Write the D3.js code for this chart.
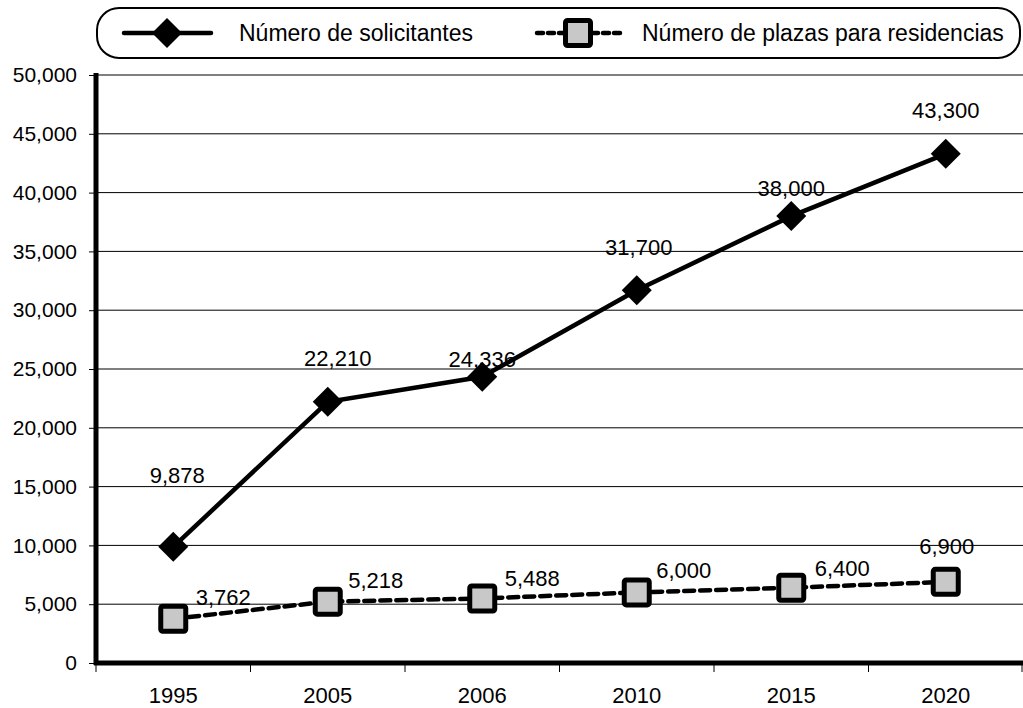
<!DOCTYPE html>
<html><head><meta charset="utf-8">
<script src="https://cdn.jsdelivr.net/npm/d3@7"></script>
<style>body{margin:0;background:#fff}svg{display:block}text{font-family:"Liberation Sans",Arial,sans-serif}</style>
</head><body>
<svg id="c" width="1023" height="708"></svg>
<script>
const categories = ["1995","2005","2006","2010","2015","2020"];
const solicitantes = [9878, 22210, 24336, 31700, 38000, 43300];
const plazas = [3762, 5218, 5488, 6000, 6400, 6900];
const seriesNames = ["Número de solicitantes","Número de plazas para residencias"];
const yTicks = [0,5000,10000,15000,20000,25000,30000,35000,40000,45000,50000];
// label offsets (px) of label centres relative to points, as placed in original
const lab1 = [[4,-72],[10,-44],[0,-18],[2,-43],[0,-28],[0,-44]];
const lab2 = [[50,-22],[48,-22],[50,-20],[47,-22],[51,-20],[1,-36]];

const svg = d3.select("#c");
const m = {l:96, r:1023, t:75, b:663};
const x = d3.scaleBand().domain(categories).range([m.l, m.r]);
const y = d3.scaleLinear().domain([0,50000]).range([m.b, m.t]);
const cx = d => x(d) + x.bandwidth()/2;
const fmt = d3.format(",");
const FF = "Liberation Sans, Arial, sans-serif";

// gridlines
svg.append("g").selectAll("line").data(yTicks.filter(d=>d>0)).join("line")
  .attr("x1", m.l).attr("x2", m.r).attr("y1", d=>y(d)).attr("y2", d=>y(d))
  .attr("stroke","#000").attr("stroke-width",1);

// y axis
const ya = svg.append("g").attr("transform",`translate(${m.l},0)`)
  .call(d3.axisLeft(y).tickValues(yTicks).tickFormat(fmt).tickSize(7).tickPadding(12));
ya.select(".domain").remove();
ya.selectAll(".tick line").attr("stroke","#000");
ya.selectAll("text").attr("font-size",21).attr("fill","#000").attr("font-family",FF);
svg.append("line").attr("x1",m.l).attr("x2",m.l).attr("y1",m.t-2).attr("y2",m.b+2)
  .attr("stroke","#000").attr("stroke-width",5);

// x axis
const xa = svg.append("g").attr("transform",`translate(0,${m.b})`)
  .call(d3.axisBottom(x).tickSize(0).tickPadding(24));
xa.select(".domain").remove();
xa.selectAll("text").attr("font-size",22).attr("fill","#000").attr("font-family",FF);
const bounds = categories.map(c=>x(c)).concat([m.r-1]);
svg.append("g").selectAll("line").data(bounds).join("line")
  .attr("x1",d=>d).attr("x2",d=>d).attr("y1",m.b).attr("y2",m.b+9)
  .attr("stroke","#000").attr("stroke-width",1);
svg.append("line").attr("x1",m.l-2).attr("x2",m.r).attr("y1",m.b).attr("y2",m.b)
  .attr("stroke","#000").attr("stroke-width",5);

// series lines
const line = d3.line().x((d,i)=>cx(categories[i])).y(d=>y(d));
svg.append("path").datum(solicitantes).attr("d",line).attr("fill","none")
  .attr("stroke","#000").attr("stroke-width",4.5);
svg.append("path").datum(plazas).attr("d",line).attr("fill","none")
  .attr("stroke","#000").attr("stroke-width",4.5).attr("stroke-dasharray","10,6").attr("stroke-linecap","round");

// markers
const diamond = (g, px, py) => g.append("path")
  .attr("d",`M${px},${py-15}L${px+15},${py}L${px},${py+15}L${px-15},${py}Z`).attr("fill","#000");
const square = (g, px, py) => g.append("rect").attr("x",px-12.5).attr("y",py-12.5).attr("width",25).attr("height",25)
  .attr("fill","#c8c8c8").attr("stroke","#000").attr("stroke-width",5).attr("rx",2);
const mk = svg.append("g");
solicitantes.forEach((v,i)=>diamond(mk, cx(categories[i]), y(v)));
plazas.forEach((v,i)=>square(mk, cx(categories[i]), y(v)));

// labels
const lg = svg.append("g").attr("font-size",22).attr("text-anchor","middle").attr("fill","#000").attr("font-family",FF);
solicitantes.forEach((v,i)=>lg.append("text").attr("x",cx(categories[i])+lab1[i][0]).attr("y",y(v)+lab1[i][1]+8).text(fmt(v)));
plazas.forEach((v,i)=>lg.append("text").attr("x",cx(categories[i])+lab2[i][0]).attr("y",y(v)+lab2[i][1]+8).text(fmt(v)));

// legend
const leg = svg.append("g");
leg.append("rect").attr("x",97).attr("y",8).attr("width",923).attr("height",50).attr("rx",22)
  .attr("fill","#fff").attr("stroke","#000").attr("stroke-width",2);
leg.append("line").attr("x1",124).attr("x2",211).attr("y1",33).attr("y2",33).attr("stroke","#000").attr("stroke-width",4.5).attr("stroke-linecap","round");
diamond(leg,167,33);
leg.append("text").attr("x",239).attr("y",41).attr("font-size",23).attr("font-family",FF).text(seriesNames[0]);
leg.append("line").attr("x1",537).attr("x2",621).attr("y1",33).attr("y2",33).attr("stroke","#000").attr("stroke-width",4.5).attr("stroke-dasharray","6,5").attr("stroke-linecap","round");
square(leg,578,33);
leg.append("text").attr("x",642).attr("y",41).attr("font-size",23).attr("font-family",FF).text(seriesNames[1]);
</script>
</body></html>
